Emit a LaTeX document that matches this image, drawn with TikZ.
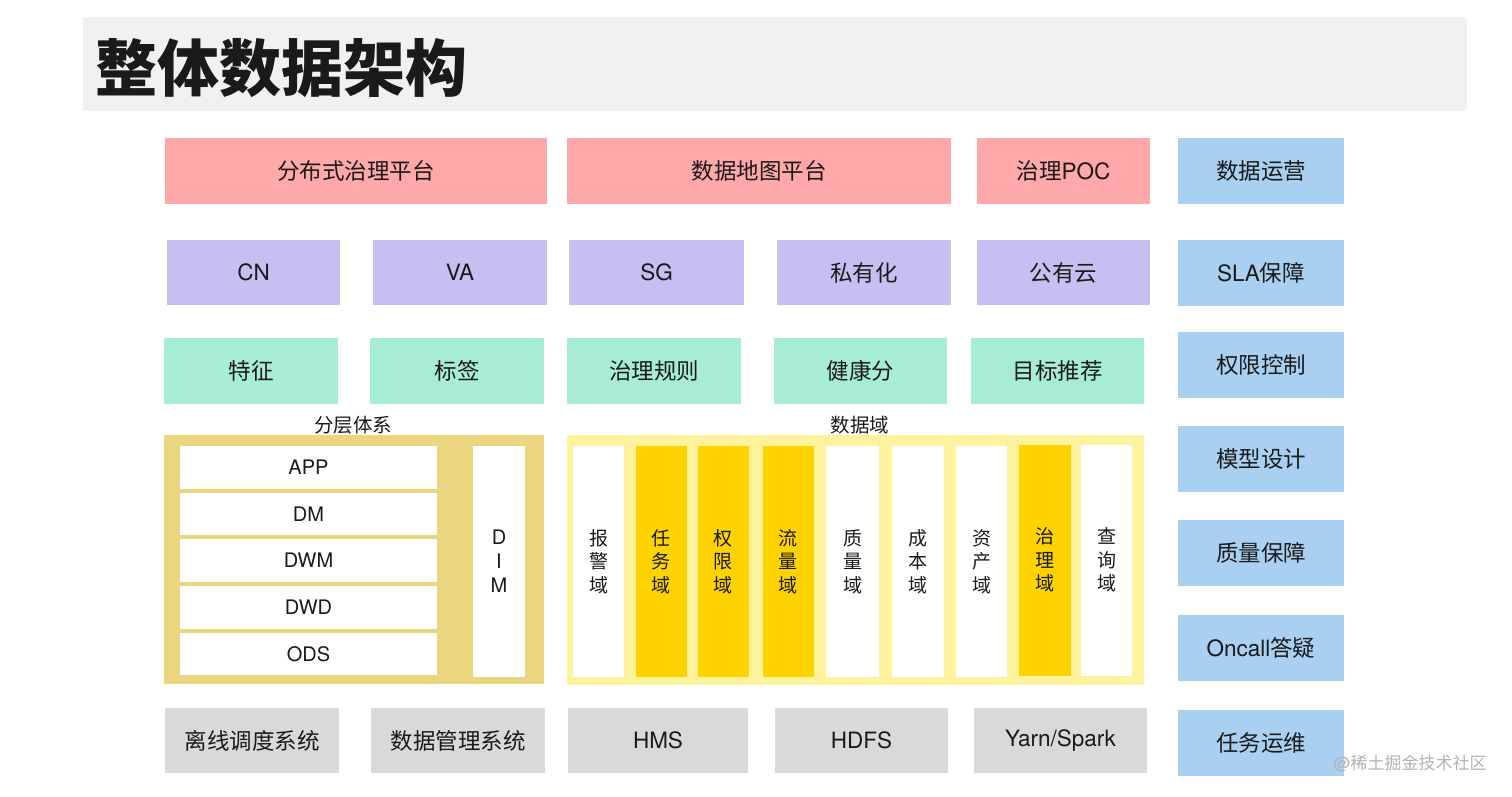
\documentclass[tikz,border=0pt]{standalone}
\usepackage{fontspec}
\setmainfont{TeX Gyre Heros}
\newfontfamily\cjk{Noto Sans CJK SC}
\newcommand\zhs[1]{{\cjk #1}}
\definecolor{cpink}{HTML}{FFA8A9}
\definecolor{clav}{HTML}{C6C0F2}
\definecolor{cmint}{HTML}{A7EDD5}
\definecolor{cblue}{HTML}{A9D0F0}
\definecolor{cgray}{HTML}{D9D9D9}
\definecolor{ckhaki}{HTML}{E9D67F}
\definecolor{cyel}{HTML}{FFF29C}
\definecolor{cgold}{HTML}{FED300}
\definecolor{cband}{HTML}{F1F1F1}
\definecolor{ctext}{HTML}{1A1A1A}
\tikzset{
  bx/.style={inner sep=0pt, outer sep=0pt, draw=none, text=ctext,
    font=\fontsize{22.5}{27}\selectfont, align=center},
  pinkbox/.style={bx, fill=cpink, minimum height=66pt},
  lavbox/.style={bx, fill=clav, minimum height=65pt},
  mintbox/.style={bx, fill=cmint, minimum height=66pt},
  bluebox/.style={bx, fill=cblue, minimum width=166pt, minimum height=66pt},
  graybox/.style={bx, fill=cgray, minimum height=65pt},
  layerbox/.style={bx, fill=white, minimum width=257pt, font=\fontsize{20}{24}\selectfont},
  colbox/.style={bx, minimum width=51pt, minimum height=231pt, font=\fontsize{19}{23.5}\selectfont},
  grplabel/.style={inner sep=0pt, text=ctext, font=\fontsize{19.5}{23}\selectfont}
}
\begin{document}
\begin{tikzpicture}[x=1pt,y=-1pt]
\useasboundingbox (0,0) rectangle (1512,796);
% title band
\node[bx, fill=cband, minimum width=1384pt, minimum height=94pt] (band) at (775,64) {};
\node[inner sep=0pt, anchor=west, text=ctext, font=\fontsize{62}{66}\selectfont\bfseries] (title) at (95,68) {\zhs{整体数据架构}};

% row 1
\node[pinkbox, minimum width=382pt] (p1) at (356,171) {\zhs{分布式治理平台}};
\node[pinkbox, minimum width=384pt] (p2) at (759,171) {\zhs{数据地图平台}};
\node[pinkbox, minimum width=173pt] (p3) at (1063.5,171) {\zhs{治理}POC};

% row 2
\node[lavbox, minimum width=173pt] (l1) at (253.5,272.5) {CN};
\node[lavbox, minimum width=174pt] (l2) at (460,272.5) {VA};
\node[lavbox, minimum width=175pt] (l3) at (656.5,272.5) {SG};
\node[lavbox, minimum width=174pt] (l4) at (864,272.5) {\zhs{私有化}};
\node[lavbox, minimum width=173pt] (l5) at (1063.5,272.5) {\zhs{公有云}};

% row 3
\node[mintbox, minimum width=174pt] (m1) at (251,371) {\zhs{特征}};
\node[mintbox, minimum width=174pt] (m2) at (457,371) {\zhs{标签}};
\node[mintbox, minimum width=174pt] (m3) at (654,371) {\zhs{治理规则}};
\node[mintbox, minimum width=173pt] (m4) at (860.5,371) {\zhs{健康分}};
\node[mintbox, minimum width=173pt] (m5) at (1057.5,371) {\zhs{目标推荐}};

% right column
\node[bluebox] (b1) at (1261,171) {\zhs{数据运营}};
\node[bluebox] (b2) at (1261,272.5) {SLA\zhs{保障}};
\node[bluebox] (b3) at (1261,365) {\zhs{权限控制}};
\node[bluebox] (b4) at (1261,459) {\zhs{模型设计}};
\node[bluebox] (b5) at (1261,553) {\zhs{质量保障}};
\node[bluebox] (b6) at (1261,647.5) {Oncall\zhs{答疑}};
\node[bluebox] (b7) at (1261,742.5) {\zhs{任务运维}};

% layered system
\node[bx, fill=ckhaki, minimum width=380pt, minimum height=249pt] (left) at (354,559.5) {};
\node[grplabel] (lblL) at (353,425.5) {\zhs{分层体系}};
\node[layerbox, minimum height=43pt] (app) at (308.5,467.5) {APP};
\node[layerbox, minimum height=42pt] (dm) at (308.5,514) {DM};
\node[layerbox, minimum height=43pt] (dwm) at (308.5,560.5) {DWM};
\node[layerbox, minimum height=43pt] (dwd) at (308.5,607.5) {DWD};
\node[layerbox, minimum height=42pt] (ods) at (308.5,654) {ODS};
\node[colbox, fill=white, minimum width=52pt, font=\fontsize{20}{24}\selectfont] (dim) at (499,561.5) {D\\I\\M};

% data domains
\node[bx, fill=cyel, minimum width=577pt, minimum height=250pt] (right) at (855.5,560) {};
\node[grplabel] (lblR) at (860,425.5) {\zhs{数据域}};
\node[colbox, fill=white] (d1) at (598.5,561.5) {\zhs{报}\\\zhs{警}\\\zhs{域}};
\node[colbox, fill=cgold] (d2) at (661,561.5) {\zhs{任}\\\zhs{务}\\\zhs{域}};
\node[colbox, fill=cgold] (d3) at (723,561.5) {\zhs{权}\\\zhs{限}\\\zhs{域}};
\node[colbox, fill=cgold] (d4) at (788,561.5) {\zhs{流}\\\zhs{量}\\\zhs{域}};
\node[colbox, fill=white, minimum width=53pt] (d5) at (852.5,561.5) {\zhs{质}\\\zhs{量}\\\zhs{域}};
\node[colbox, fill=white, minimum width=52pt] (d6) at (918,561.5) {\zhs{成}\\\zhs{本}\\\zhs{域}};
\node[colbox, fill=white] (d7) at (981.5,561.5) {\zhs{资}\\\zhs{产}\\\zhs{域}};
\node[colbox, fill=cgold, minimum width=52pt] (d8) at (1045,560) {\zhs{治}\\\zhs{理}\\\zhs{域}};
\node[colbox, fill=white] (d9) at (1106.5,560) {\zhs{查}\\\zhs{询}\\\zhs{域}};

% bottom row
\node[graybox, minimum width=174pt] (g1) at (252,740.5) {\zhs{离线调度系统}};
\node[graybox, minimum width=174pt] (g2) at (458,740.5) {\zhs{数据管理系统}};
\node[graybox, minimum width=180pt] (g3) at (658,740.5) {HMS};
\node[graybox, minimum width=173pt] (g4) at (861.5,740.5) {HDFS};
\node[graybox, minimum width=173pt] (g5) at (1060.5,740.5) {Yarn/Spark};

% watermark
\node[inner sep=0pt, text=black!30, font=\fontsize{17}{20}\selectfont] (wm) at (1410,763) {@\zhs{稀土掘金技术社区}};
\end{tikzpicture}
\end{document}
